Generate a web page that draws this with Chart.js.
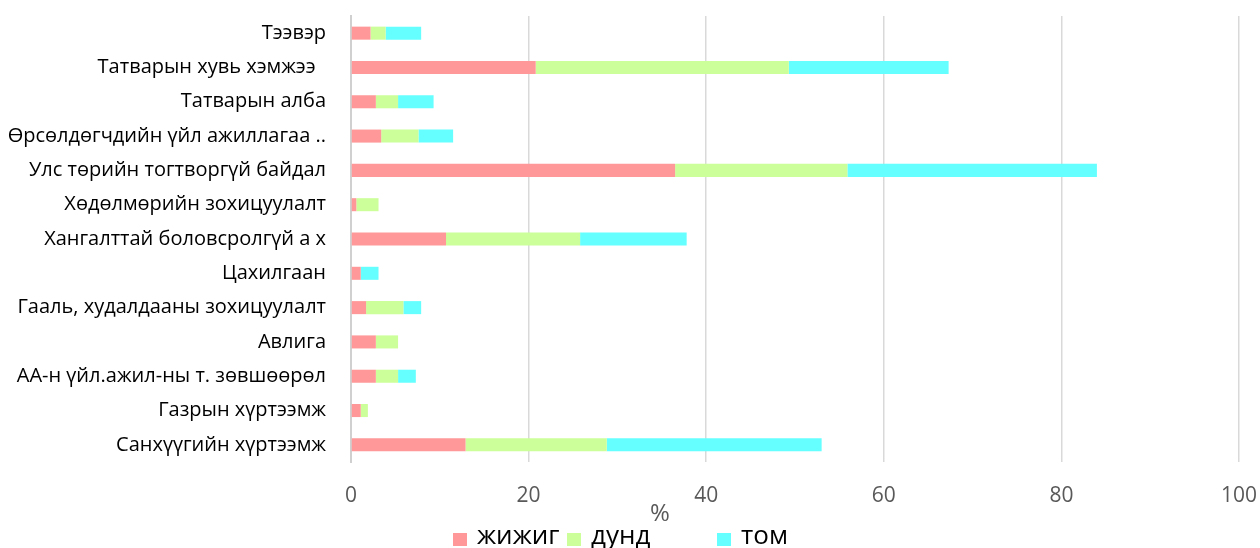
<!DOCTYPE html>
<html>
<head>
<meta charset="utf-8">
<script src="https://cdn.jsdelivr.net/npm/chart.js@4.4.1/dist/chart.umd.min.js"></script>
<style>
  html, body { margin: 0; padding: 0; background: #fff; }
  #wrap { width: 1260px; height: 548px; }
</style>
</head>
<body>
<div id="wrap"><canvas id="c" width="1260" height="548"></canvas></div>
<script>
// Obstacles named by firms, share (%) by firm size
const categories = [
  'Тээвэр',
  'Татварын хувь хэмжээ  ',
  'Татварын алба',
  'Өрсөлдөгчдийн үйл ажиллагаа ..',
  'Улс төрийн тогтворгүй байдал',
  'Хөдөлмөрийн зохицуулалт',
  'Хангалттай боловсролгүй а х',
  'Цахилгаан',
  'Гааль, худалдааны зохицуулалт',
  'Авлига',
  'АА-н үйл.ажил-ны т. зөвшөөрөл',
  'Газрын хүртээмж',
  'Санхүүгийн хүртээмж'
];
const smallFirms  = [2.2, 20.8, 2.8, 3.4, 36.5, 0.6, 10.7, 1.1, 1.7, 2.8, 2.8, 1.1, 12.9];
const mediumFirms = [1.7, 28.5, 2.5, 4.2, 19.4, 2.5, 15.1, 0.0, 4.2, 2.5, 2.5, 0.8, 15.9];
const largeFirms  = [4.0, 18.0, 4.0, 3.9, 28.1, 0.0, 12.0, 2.0, 2.0, 0.0, 2.0, 0.0, 24.2];
const seriesNames = ['жижиг', 'дунд', 'том'];
const xTickValues = [0, 20, 40, 60, 80, 100];
const axisTitle = '%';

const colors = ['#ff9999', '#ccff99', '#66ffff'];
const seriesData = [smallFirms, mediumFirms, largeFirms];

// "%" caption under the value axis, slightly left of centre
const axisCaption = {
  id: 'axisCaption',
  afterDraw(chart) {
    const x = chart.scales.x;
    const ctx = chart.ctx;
    ctx.save();
    ctx.font = '24px "Open Sans", sans-serif';
    ctx.fillStyle = '#595959';
    ctx.textAlign = 'center';
    ctx.textBaseline = 'middle';
    ctx.fillText(axisTitle, x.getPixelForValue(34.8), 514);
    ctx.restore();
  }
};

// Legend row along the bottom edge, one swatch + name per dataset
const legendSlots = [453, 567, 717];
const bottomLegend = {
  id: 'bottomLegend',
  afterDraw(chart) {
    const ctx = chart.ctx;
    ctx.save();
    ctx.font = '26px "Open Sans", sans-serif';
    ctx.textBaseline = 'middle';
    ctx.textAlign = 'left';
    chart.data.datasets.forEach((ds, i) => {
      const x0 = legendSlots[i];
      ctx.fillStyle = ds.backgroundColor;
      ctx.fillRect(x0, 533, 14, 13);
      ctx.fillStyle = '#000';
      ctx.fillText(ds.label, x0 + 24, 537);
    });
    ctx.restore();
  }
};

new Chart(document.getElementById('c'), {
  type: 'bar',
  data: {
    labels: categories,
    datasets: seriesNames.map((name, i) => ({
      label: name,
      data: seriesData[i],
      backgroundColor: colors[i],
      borderWidth: 0,
      categoryPercentage: 1,
      barPercentage: 0.38
    }))
  },
  options: {
    indexAxis: 'y',
    responsive: false,
    animation: false,
    layout: { padding: { left: 0, right: 21, top: 16, bottom: 0 } },
    plugins: {
      tooltip: { enabled: false },
      legend: { display: false }
    },
    scales: {
      x: {
        stacked: true,
        min: 0,
        max: 100,
        afterBuildTicks(scale) { scale.ticks = xTickValues.map(v => ({ value: v })); },
        afterFit(scale) {
          scale.height = 86;
          scale.paddingLeft = 0;
          scale.paddingRight = 0;
        },
        grid: { color: '#d9d9d9', lineWidth: 1.5, drawTicks: false },
        border: { display: false },
        ticks: {
          padding: 21,
          color: '#595959',
          font: { family: '"Open Sans", sans-serif', size: 21 }
        }
      },
      y: {
        stacked: true,
        afterFit(scale) {
          scale.width = 351;
          scale.paddingTop = 0;
          scale.paddingBottom = 0;
        },
        grid: { display: false, drawTicks: false },
        border: { display: true, color: '#d0d0d0', width: 2 },
        ticks: {
          padding: 25,
          color: '#000',
          autoSkip: false,
          font: { family: '"Open Sans", sans-serif', size: 20 }
        }
      }
    }
  },
  plugins: [axisCaption, bottomLegend]
});
</script>
</body>
</html>
